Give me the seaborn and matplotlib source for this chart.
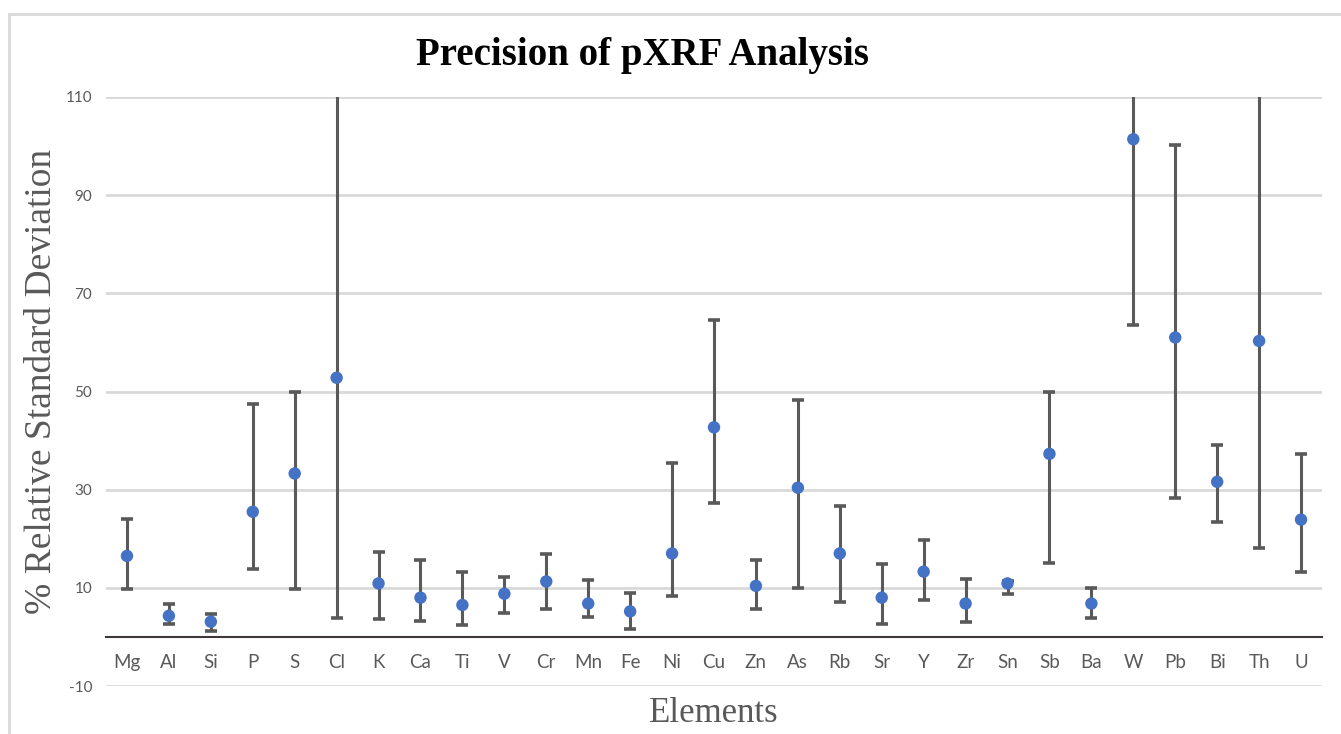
import numpy as np
import pandas as pd
import matplotlib
matplotlib.use("Agg")
import matplotlib.pyplot as plt
import seaborn as sns
from matplotlib.patches import Rectangle

elements = ["Mg", "Al", "Si", "P", "S", "Cl", "K", "Ca", "Ti", "V", "Cr", "Mn", "Fe", "Ni", "Cu",
            "Zn", "As", "Rb", "Sr", "Y", "Zr", "Sn", "Sb", "Ba", "W", "Pb", "Bi", "Th", "U"]
rsd = [16.5, 4.3, 3.1, 25.5, 33.3, 52.8, 10.9, 8.0, 6.5, 8.8, 11.3, 6.8, 5.2, 17.0, 42.7,
       10.4, 30.4, 17.0, 8.0, 13.3, 6.8, 10.9, 37.3, 6.8, 101.4, 61.0, 31.6, 60.3, 23.9]
upper = [24.1, 6.7, 4.6, 47.5, 49.8, 130.0, 17.3, 15.6, 13.2, 12.3, 16.8, 11.6, 9.0, 35.5, 64.5,
         15.6, 48.2, 26.7, 14.8, 19.7, 11.9, 11.3, 49.8, 9.9, 140.0, 100.3, 39.2, 125.0, 37.2]
lower = [9.7, 2.6, 1.2, 13.8, 9.7, 3.9, 3.6, 3.2, 2.4, 4.8, 5.6, 4.1, 1.6, 8.4, 27.2,
         5.6, 10.0, 7.2, 2.7, 7.6, 3.1, 8.8, 15.0, 3.9, 63.5, 28.4, 23.5, 18.2, 13.3]
yticks = [-10, 10, 30, 50, 70, 90, 110]

df = pd.DataFrame({"Element": elements, "RSD": rsd, "Upper": upper, "Lower": lower})

sns.set_theme(style="white")
plt.rcParams['font.family'] = ['Lato', 'DejaVu Sans']
plt.rcParams['axes.unicode_minus'] = False

fig = plt.figure(figsize=(13.41, 7.34), dpi=100)
ax = fig.add_axes([106/1341, 1-686/734, (1322-106)/1341, (686-97)/734])

# chart border
fig.patches.append(Rectangle((9/1341, -0.05), 1.2, 1-14/734+0.05, transform=fig.transFigure,
                             fill=False, edgecolor="#d9d9d9", linewidth=2, zorder=0))

grey = "#595959"
yerr = np.array([df["RSD"] - df["Lower"], df["Upper"] - df["RSD"]])
ax.errorbar(df["Element"], df["RSD"], yerr=yerr, fmt="none", ecolor=grey,
            elinewidth=2.2, capsize=4, capthick=2.6, zorder=3)
sns.scatterplot(data=df, x="Element", y="RSD", ax=ax, color="#4472C4", s=80,
                edgecolor="none", zorder=4, legend=False)

ax.set_ylim(-10, 110)
ax.set_xlim(-0.5, len(elements) - 0.5)
ax.set_yticks(yticks)
ax.yaxis.grid(True, color="#d9d9d9", linewidth=2)
ax.set_axisbelow(True)
for s in ["top", "right", "left"]:
    ax.spines[s].set_visible(False)
ax.spines["bottom"].set_position(("data", 0))
ax.spines["bottom"].set_color("#3f3838")
ax.spines["bottom"].set_linewidth(1.5)
ax.spines["bottom"].set_zorder(2)
ax.tick_params(axis="x", length=0, pad=12, labelsize=13.5, labelcolor=grey)
ax.tick_params(axis="y", length=0, pad=10, labelsize=11, labelcolor=grey)
ax.set_xlabel("")
ax.set_ylabel("")

fig.text(642/1341, 1-55/734, "Precision of pXRF Analysis", ha="center", va="center",
         fontsize=28, fontweight="bold", family="Liberation Serif", color="black")
fig.text(42/1341, 1-381/734, "% Relative Standard Deviation", ha="center", va="center",
         rotation=90, fontsize=27, family="Liberation Serif", color=grey)
fig.text(714/1341, 1-713/734, "Elements", ha="center", va="center",
         fontsize=25, family="Liberation Serif", color=grey)

fig.savefig("out.png", dpi=100)
